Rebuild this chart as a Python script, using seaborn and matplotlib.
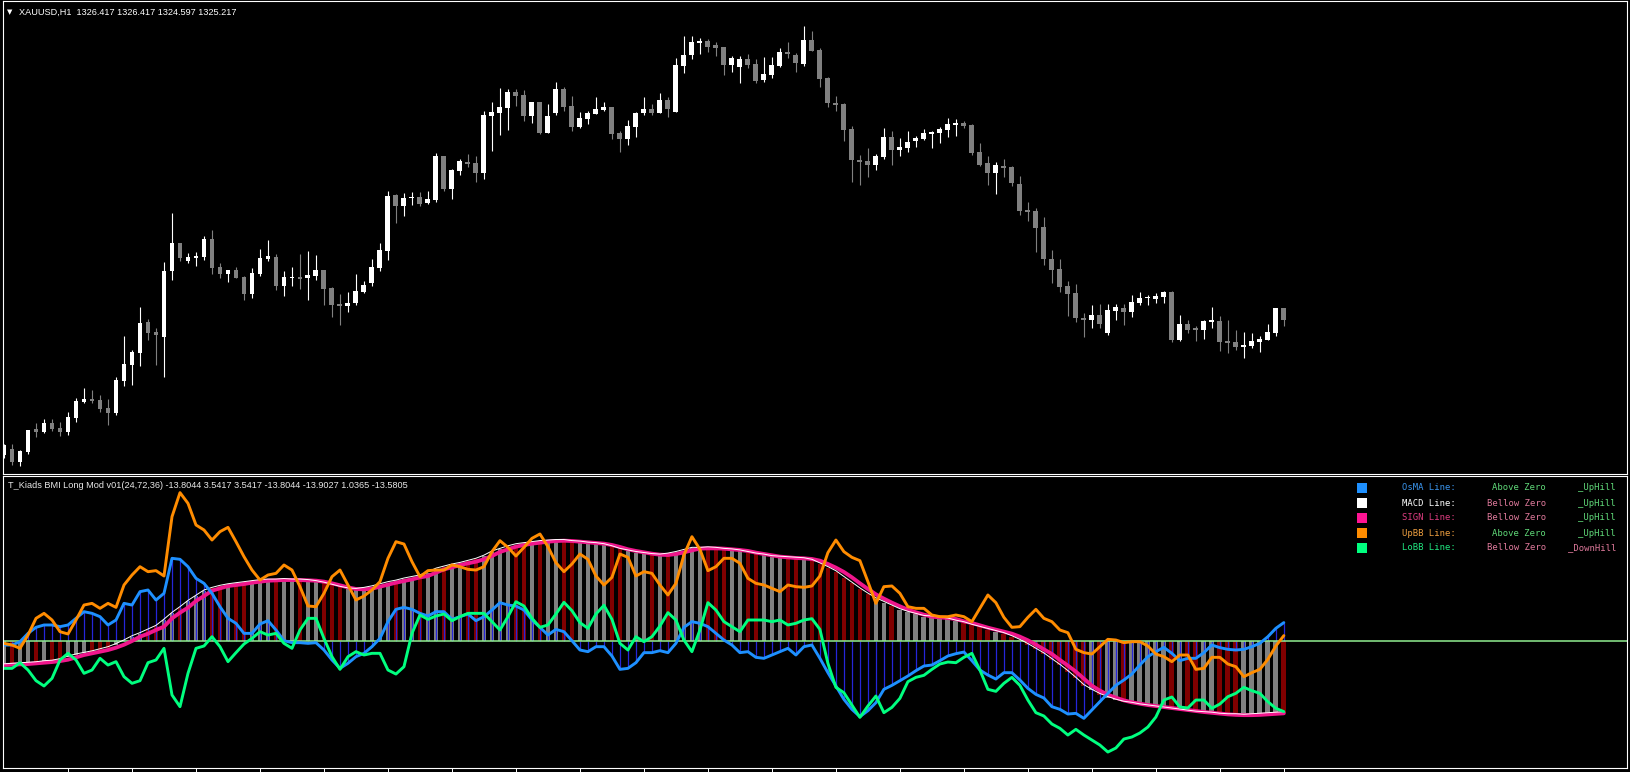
import numpy as np
import pandas as pd
import matplotlib
matplotlib.use("Agg")
import matplotlib.pyplot as plt
from matplotlib.patches import Rectangle
from matplotlib.transforms import offset_copy
import seaborn as sns

# XAUUSD H1 candles (oldest -> newest)
opens = [1311.7,1312.3,1311.0,1312.0,1314.3,1314.0,1314.9,1314.4,1314.0,1315.4,
         1317.0,1317.3,1317.2,1316.4,1315.9,1319.1,1320.7,1321.9,1325.0,1324.0,
         1323.5,1330.1,1332.9,1331.1,1331.4,1331.5,1333.3,1330.5,1329.8,1330.2,
         1329.5,1327.8,1329.8,1331.3,1331.5,1328.6,1329.4,1329.5,1329.4,1329.6,
         1330.2,1328.4,1326.8,1326.6,1326.9,1328.0,1328.9,1330.4,1332.1,1337.7,
         1336.6,1337.4,1337.5,1336.9,1337.2,1341.6,1338.3,1340.1,1341.0,1340.9,
         1339.9,1345.6,1345.9,1346.4,1348.0,1347.7,1345.6,1347.0,1343.9,1345.9,
         1348.3,1346.6,1344.5,1345.3,1345.8,1346.2,1346.5,1343.9,1343.3,1344.5,
         1345.9,1346.3,1345.9,1347.2,1346.0,1350.6,1351.7,1352.9,1353.1,1352.7,
         1352.5,1350.7,1350.5,1351.3,1350.8,1349.2,1349.7,1350.6,1352.0,1351.7,
         1350.8,1353.2,1352.2,1349.4,1346.9,1346.8,1344.3,1341.2,1341.1,1340.7,
         1341.5,1343.5,1342.2,1342.4,1343.1,1343.3,1343.8,1343.9,1344.2,1344.7,
         1344.9,1344.7,1342.0,1340.9,1339.9,1340.6,1340.5,1338.8,1336.2,1336.1,
         1334.5,1331.3,1330.3,1328.6,1327.9,1325.4,1325.2,1325.7,1323.9,1326.1,
         1326.4,1326.0,1326.9,1327.4,1327.3,1327.5,1328.0,1323.2,1324.8,1324.4,
         1324.2,1325.0,1325.1,1323.1,1323.0,1322.5,1322.6,1323.0,1323.2,1323.9,
         1326.417]
highs = [1312.8,1312.8,1312.2,1314.2,1314.9,1315.3,1315.3,1315.0,1316.0,1317.4,
         1318.4,1318.2,1317.7,1317.3,1319.5,1323.6,1322.2,1326.5,1325.3,1324.4,
         1331.0,1335.9,1332.9,1331.9,1332.0,1333.6,1334.2,1330.9,1330.2,1330.5,
         1329.6,1330.4,1332.3,1333.2,1331.8,1330.1,1330.5,1331.8,1332.1,1331.7,
         1330.2,1328.5,1327.8,1328.0,1329.8,1329.1,1331.3,1332.9,1338.1,1337.8,
         1337.9,1338.0,1338.0,1338.1,1341.9,1341.6,1340.3,1341.3,1341.8,1341.6,
         1346.1,1347.0,1348.4,1348.3,1348.3,1348.2,1347.0,1347.0,1346.8,1349.0,
         1348.5,1347.6,1346.0,1346.1,1347.5,1347.0,1346.5,1344.1,1345.2,1346.0,
         1347.5,1346.8,1347.9,1347.5,1351.4,1353.6,1353.6,1353.4,1353.3,1353.0,
         1352.5,1351.6,1351.6,1351.8,1351.3,1351.5,1351.5,1352.4,1353.0,1351.9,
         1354.6,1354.1,1352.4,1349.5,1347.6,1346.9,1344.6,1341.7,1342.4,1341.8,
         1344.4,1344.1,1343.4,1344.1,1343.6,1344.3,1344.1,1344.5,1345.4,1345.3,
         1345.1,1344.8,1342.9,1341.6,1341.0,1341.3,1340.6,1339.6,1337.0,1336.4,
         1335.5,1332.2,1331.3,1329.1,1328.8,1325.9,1326.7,1326.8,1326.8,1326.8,
         1326.8,1327.7,1328.0,1327.7,1327.9,1328.1,1328.1,1325.7,1325.2,1324.6,
         1325.2,1326.5,1325.6,1325.2,1324.2,1324.0,1323.9,1323.6,1324.8,1326.4,
         1326.417]
lows = [1311.4,1310.7,1310.6,1311.8,1313.5,1313.9,1314.1,1313.6,1313.7,1315.0,
        1316.9,1316.9,1316.0,1314.7,1315.7,1318.6,1318.7,1320.6,1323.2,1320.7,
        1319.5,1329.2,1331.1,1330.9,1330.6,1331.2,1329.8,1329.4,1329.0,1329.4,
        1327.2,1327.4,1329.6,1331.1,1328.2,1327.6,1328.6,1328.3,1327.2,1329.2,
        1326.7,1325.5,1324.7,1326.0,1326.7,1327.9,1328.6,1330.1,1331.2,1334.9,
        1335.6,1336.7,1336.6,1336.8,1337.0,1338.1,1337.3,1339.7,1340.5,1339.0,
        1339.3,1342.1,1343.7,1344.2,1346.6,1345.1,1344.9,1343.8,1343.9,1345.7,
        1346.1,1344.1,1344.4,1344.8,1345.8,1346.1,1343.3,1342.0,1342.7,1343.5,
        1345.7,1345.7,1345.9,1345.5,1346.0,1349.9,1351.3,1351.8,1352.0,1351.6,
        1349.7,1350.0,1348.9,1350.4,1348.9,1349.0,1349.4,1350.5,1351.4,1350.0,
        1350.6,1352.1,1348.5,1346.5,1346.1,1343.1,1339.0,1338.7,1339.5,1340.2,
        1341.3,1340.7,1341.6,1342.0,1342.5,1343.2,1342.4,1342.9,1343.5,1343.6,
        1344.4,1341.7,1340.6,1338.7,1337.8,1339.5,1338.6,1335.7,1335.1,1332.0,
        1330.7,1328.9,1328.0,1325.6,1325.0,1323.5,1324.4,1324.4,1323.7,1325.2,
        1324.7,1325.5,1326.7,1326.7,1326.9,1326.9,1323.0,1323.1,1323.9,1323.1,
        1323.3,1324.4,1322.1,1321.9,1322.2,1321.4,1322.4,1322.0,1323.2,1323.6,
        1324.597]
closes = [1312.7,1311.0,1312.1,1314.2,1314.0,1314.9,1314.3,1314.0,1315.5,1317.1,
          1317.3,1317.1,1316.3,1315.9,1319.2,1320.8,1322.0,1324.9,1323.9,1323.7,
          1330.1,1332.9,1331.4,1331.5,1331.6,1333.3,1330.4,1329.8,1330.2,1329.4,
          1327.8,1329.9,1331.4,1331.6,1328.6,1329.5,1329.5,1329.3,1329.7,1330.2,
          1328.3,1326.7,1326.6,1326.9,1328.1,1328.7,1330.5,1332.2,1337.6,1336.6,
          1337.4,1337.5,1336.8,1337.3,1341.6,1338.3,1340.2,1341.1,1340.8,1339.9,
          1345.7,1346.0,1346.5,1348.0,1347.6,1345.6,1347.0,1343.9,1345.6,1348.3,
          1346.5,1344.5,1345.4,1345.9,1346.3,1346.5,1343.8,1343.3,1344.6,1345.9,
          1346.3,1345.9,1347.2,1346.3,1350.7,1351.7,1353.0,1353.1,1352.5,1352.4,
          1350.7,1351.4,1351.3,1350.7,1349.1,1349.8,1350.7,1352.0,1351.8,1350.9,
          1353.2,1352.1,1349.3,1346.9,1346.7,1344.2,1341.2,1341.0,1340.7,1341.6,
          1343.5,1342.2,1342.5,1343.0,1343.4,1343.9,1344.0,1344.3,1344.8,1344.9,
          1344.6,1341.9,1340.7,1339.9,1340.7,1340.4,1338.9,1336.1,1336.0,1334.4,
          1331.3,1330.2,1328.5,1327.8,1325.4,1325.2,1325.7,1324.8,1326.2,1326.5,
          1326.0,1327.0,1327.4,1327.5,1327.6,1328.0,1323.2,1324.8,1324.2,1324.2,
          1325.1,1325.2,1323.0,1322.9,1322.5,1322.7,1323.1,1323.3,1324.0,1326.4,
          1325.217]

# T_Kiads BMI buffers
osma = [-0.77,-0.77,-0.13,1.47,2.63,3.08,3.08,2.76,3.08,4.36,
        5.64,5.32,4.68,3.08,4.04,7.24,6.92,9.49,9.81,7.88,
        9.17,15.9,15.71,14.29,12.05,11.09,9.17,6.6,4.36,3.4,
        1.47,1.47,3.27,3.91,2.12,0.06,-0.32,-0.32,-0.45,-0.32,
        -1.73,-3.65,-5.26,-4.29,-3.01,-2.37,-1.09,0.51,3.72,6.09,
        6.47,6.09,5.32,4.81,5.64,5.64,4.17,4.68,5.19,3.91,
        4.68,5.96,7.37,6.92,6.73,5.96,4.04,2.63,1.15,2.24,
        1.79,0.06,-1.73,-2.05,-1.09,-1.09,-2.88,-5.45,-5.26,-4.17,
        -2.24,-2.24,-1.86,-2.24,-0.45,2.63,3.72,3.4,2.76,1.47,
        0.19,-0.77,-2.24,-2.05,-3.14,-3.33,-2.69,-2.05,-1.41,-2.69,
        -1.09,-0.77,-3.33,-6.09,-8.65,-11.22,-13.14,-14.55,-13.4,-11.86,
        -9.29,-8.53,-7.63,-6.73,-5.71,-4.81,-4.62,-3.78,-2.88,-2.44,
        -2.12,-3.78,-5.58,-6.54,-7.31,-6.09,-6.09,-7.5,-9.1,-10.26,
        -10.96,-12.63,-13.14,-14.04,-13.91,-14.87,-13.27,-11.67,-10.06,-8.53,
        -7.5,-6.35,-4.62,-3.01,-2.05,-1.22,-2.37,-3.78,-3.33,-3.33,
        -2.24,-0.77,-1.28,-1.6,-1.73,-1.6,-1.09,-0.45,0.83,2.44,
        3.54]
macd = [-4.6,-4.5,-4.4,-4.3,-4.2,-4.0,-3.9,-3.6,-3.1,-2.7,
        -2.4,-2.1,-1.7,-1.3,-0.7,0.0,0.8,1.4,2.1,2.8,
        4.0,5.3,6.4,7.6,8.6,9.6,10.1,10.5,10.8,11.0,
        11.2,11.4,11.6,11.7,11.7,11.8,11.7,11.7,11.6,11.4,
        11.1,10.7,10.3,10.0,9.9,10.1,10.4,10.8,11.2,11.5,
        11.9,12.2,12.5,13.1,13.8,14.2,14.6,14.9,15.3,15.7,
        16.3,17.1,17.6,18.1,18.5,18.7,18.9,19.1,19.2,19.3,
        19.3,19.1,19.0,18.8,18.7,18.5,18.1,17.6,17.3,17.0,
        16.8,16.6,16.5,16.7,17.0,17.4,17.8,17.8,17.9,17.8,
        17.6,17.5,17.3,17.0,16.7,16.5,16.2,16.1,16.0,15.9,
        15.8,15.5,14.8,14.1,13.3,12.2,11.1,10.0,9.0,8.1,
        7.4,6.7,6.0,5.5,5.1,4.7,4.6,4.4,4.2,3.8,
        3.5,3.0,2.6,2.2,1.8,1.4,0.8,0.1,-0.7,-1.6,
        -2.5,-3.6,-4.7,-5.9,-7.2,-8.6,-9.5,-10.3,-10.9,-11.4,
        -11.8,-12.0,-12.3,-12.5,-12.7,-12.9,-13.1,-13.3,-13.5,-13.7,
        -13.8,-13.9,-14.1,-14.2,-14.2,-14.3,-14.2,-14.1,-14.0,-13.9,
        -13.8]
signal = [-4.62,-4.55,-4.49,-4.42,-4.29,-4.17,-4.04,-3.85,-3.59,-3.14,
          -2.69,-2.37,-2.05,-1.73,-1.28,-0.71,0.0,0.83,1.41,2.12,
          2.76,4.36,5.45,6.41,7.69,8.65,9.68,10.13,10.58,10.77,
          10.96,11.22,11.41,11.6,11.67,11.73,11.73,11.73,11.67,11.6,
          11.41,11.09,10.71,10.32,10.0,9.94,10.06,10.45,10.83,11.22,
          11.54,11.86,12.24,12.5,13.14,13.78,14.17,14.62,14.94,15.26,
          15.71,16.35,17.12,17.63,18.14,18.46,18.72,18.91,19.1,19.23,
          19.29,19.23,19.1,18.97,18.85,18.72,18.46,18.08,17.63,17.31,
          17.05,16.79,16.6,16.54,16.73,17.05,17.44,17.76,17.82,17.82,
          17.76,17.63,17.5,17.31,16.99,16.73,16.47,16.22,16.09,15.96,
          15.9,15.77,15.45,14.81,14.1,13.27,12.24,11.09,10.0,8.97,
          8.14,7.37,6.67,6.03,5.51,5.06,4.68,4.55,4.42,4.23,
          3.78,3.46,3.01,2.56,2.18,1.79,1.41,0.83,0.13,-0.71,
          -1.6,-2.5,-3.65,-4.74,-5.9,-7.24,-8.59,-9.55,-10.32,-10.9,
          -11.41,-11.79,-12.05,-12.31,-12.5,-12.69,-12.88,-13.08,-13.27,-13.46,
          -13.65,-13.8,-13.95,-14.1,-14.2,-14.25,-14.25,-14.2,-14.1,-14.0,
          -13.9]
upbb = [-0.45,-0.77,-1.41,1.15,4.36,5.32,4.04,1.79,1.35,4.04,
        6.92,7.24,6.28,7.24,6.47,10.77,12.69,14.29,13.33,13.53,
        12.5,23.91,28.53,26.47,22.31,21.35,19.42,21.03,21.86,19.1,
        16.22,13.65,11.73,12.69,13.01,14.62,13.65,10.45,6.73,6.6,
        9.17,12.37,13.65,10.77,7.88,8.65,9.81,11.41,15.9,19.1,
        18.65,15.26,12.37,13.53,13.65,13.65,14.62,14.29,13.78,13.65,
        14.29,17.18,19.29,18.01,16.35,18.01,19.74,20.58,18.14,15.06,
        13.33,14.81,16.73,15.71,12.5,10.77,12.24,16.73,16.09,12.5,
        13.33,13.01,10.77,8.85,11.09,16.54,20.06,17.63,13.53,14.29,
        15.9,15.9,14.94,12.05,11.09,10.77,10.13,9.49,10.77,10.45,
        10.32,10.58,12.5,16.99,19.42,17.18,16.09,15.45,11.41,7.24,
        10.45,10.58,9.17,6.6,6.28,6.28,5.0,4.68,4.68,5.0,
        4.68,3.72,6.28,8.85,7.37,4.55,2.63,2.76,4.55,6.09,
        4.36,3.72,2.12,1.6,-1.6,-2.24,-2.5,-1.09,0.32,0.19,
        -0.32,-0.13,-0.13,-0.96,-2.5,-3.01,-3.97,-2.69,-2.69,-5.45,
        -5.26,-3.14,-3.14,-4.42,-4.94,-6.86,-6.09,-5.45,-3.53,-0.96,
        1.04]
lobb = [-5.26,-5.26,-4.17,-5.58,-7.63,-8.65,-7.18,-3.65,-2.37,-3.65,
        -6.22,-5.58,-3.33,-4.62,-3.97,-6.86,-8.14,-7.63,-4.17,-3.65,
        -1.41,-10.38,-12.63,-6.22,-1.41,-0.96,0.83,-1.09,-3.97,-2.24,
        -0.58,0.51,1.79,1.15,1.47,-0.45,-1.41,2.12,4.36,4.36,
        0.51,-3.01,-5.45,-3.01,-2.05,-2.69,-2.37,-2.37,-5.58,-6.35,
        -4.94,1.47,5.0,4.17,4.81,5.19,3.91,4.68,5.32,5.32,
        5.32,3.72,2.12,4.68,7.56,6.73,4.36,2.63,3.08,5.19,
        7.44,5.83,3.53,2.44,5.19,6.86,4.17,-0.45,-1.73,0.83,
        -0.13,0.83,2.88,5.45,4.04,0.19,-2.05,2.12,7.37,5.96,
        3.72,2.76,1.79,4.04,4.04,4.04,3.72,4.04,3.08,3.4,
        4.04,4.29,2.24,-4.29,-8.91,-9.94,-12.31,-14.68,-12.5,-10.58,
        -13.78,-12.76,-11.03,-7.82,-6.99,-6.6,-5.45,-4.42,-4.04,-4.17,
        -3.14,-2.37,-5.58,-9.29,-9.68,-8.14,-6.99,-8.53,-11.35,-13.78,
        -14.42,-15.96,-16.79,-18.08,-16.99,-18.08,-19.04,-20.0,-21.35,-20.58,
        -18.85,-18.46,-17.69,-16.54,-14.62,-11.35,-10.77,-12.69,-12.88,-11.35,
        -11.35,-12.94,-12.12,-10.71,-10.06,-8.9,-9.56,-10.06,-11.67,-12.94,
        -13.58]

# status table in the indicator window
legend_names = ["OsMA Line:", "MACD Line:", "SIGN Line:", "UpBB Line:", "LoBB Line:"]
legend_zone = ["Above Zero", "Bellow Zero", "Bellow Zero", "Above Zero", "Bellow Zero"]
legend_slope = ["_UpHill", "_UpHill", "_UpHill", "_UpHill", "_DownHill"]

W, H = 1630, 772
sns.set_theme(style="dark")
plt.rcParams["font.family"] = ["Liberation Sans", "DejaVu Sans"]

df = pd.DataFrame({"open": opens, "high": highs, "low": lows, "close": closes,
                   "osma": osma, "macd": macd, "signal": signal,
                   "upbb": upbb, "lobb": lobb})
df["bar"] = np.arange(len(df))
up = df["close"] >= df["open"]

fig = plt.figure(figsize=(W / 100, H / 100), dpi=100, facecolor="black")
ax1 = fig.add_axes([2.5 / W, 1 - 474 / H, 1624.5 / W, 473 / H])
ax2 = fig.add_axes([2.5 / W, 4 / H, 1624.5 / W, 292 / H])

for ax in (ax1, ax2):
    ax.set_facecolor("black")
    ax.grid(False)
    for s in ax.spines.values():
        s.set_color("white")
        s.set_linewidth(0.8)
    ax.set_xlim(-0.19, 202.9)
    ax.set_yticks([])

# candles
ccol = np.where(up, "white", "#808080")
ax1.vlines(df["bar"], df["low"], df["high"], colors=ccol, linewidth=0.8)
body_lo = np.minimum(df["open"], df["close"])
body_h = np.maximum((df["close"] - df["open"]).abs(), 0.12)
ax1.bar(df["bar"], body_h, bottom=body_lo, width=0.62, color=ccol, linewidth=0)
ax1.set_ylim(1309.8, 1357.1)
ax1.set_xticks([])

# indicator window
hcol = np.where(up, "#808080", "#800000")
ax2.bar(df["bar"], df["macd"], width=0.6, color=hcol, linewidth=0)
ax2.vlines(df["bar"], 0, df["osma"], colors="#2626d8", linewidth=0.9)
ax2.axhline(0, color="#90ee90", linewidth=1.1)
sns.lineplot(data=df, x="bar", y="signal", color="#f0168c", linewidth=2.8, ax=ax2)
# MACD line sits on the upper rim of the signal line
rim = offset_copy(ax2.transData, fig=fig, x=0, y=0.8, units="points")
ax2.plot(df["bar"], df["macd"], color="white", linewidth=0.7, transform=rim)
sns.lineplot(data=df, x="bar", y="osma", color="#1e90ff", linewidth=2.1, ax=ax2)
sns.lineplot(data=df, x="bar", y="upbb", color="#ff8c00", linewidth=2.1, ax=ax2)
sns.lineplot(data=df, x="bar", y="lobb", color="#00ff7f", linewidth=2.1, ax=ax2)
ax2.set_ylim(-24.42, 31.73)
ax2.set_xlim(-0.19, 202.9)
ax2.set_xlabel("")
ax2.set_ylabel("")
ax2.set_xticks(range(8, 161, 8))
ax2.tick_params(axis="x", bottom=True, direction="out", length=3, width=0.7,
                color="white", labelbottom=False)

# header texts
fig.text(7 / W, 1 - 12 / H, "\u25bc", color="white", fontsize=5, va="center",
         family="DejaVu Sans")
fig.text(19 / W, 1 - 12.5 / H, "XAUUSD,H1  1326.417 1326.417 1324.597 1325.217",
         color="white", fontsize=6.6, va="center")
fig.text(8 / W, 1 - 486 / H,
         "T_Kiads BMI Long Mod v01(24,72,36) -13.8044 3.5417 3.5417 -13.8044 "
         "-13.9027 1.0365 -13.5805", color="#e8e8e8", fontsize=6.6, va="center")

sq_colors = ["#1e90ff", "white", "#ff1493", "#ff8c00", "#00ff7f"]
name_colors = ["#3a95ee", "white", "#dd3d80", "#f0a040", "#20e880"]
zone_colors = {"Above Zero": "#5fd878", "Bellow Zero": "#e07a9c"}
for k in range(5):
    yc = 488 + 15 * k
    fig.add_artist(Rectangle((1357 / W, 1 - (yc + 5) / H), 10 / W, 10 / H,
                             transform=fig.transFigure, color=sq_colors[k], lw=0))
    fig.text(1456 / W, 1 - yc / H, legend_names[k], color=name_colors[k],
             fontsize=6.4, family="DejaVu Sans Mono", ha="right", va="center")
    fig.text(1546 / W, 1 - yc / H, legend_zone[k], color=zone_colors[legend_zone[k]],
             fontsize=6.4, family="DejaVu Sans Mono", ha="right", va="center")
    scol = "#5fd878" if legend_slope[k] == "_UpHill" else "#e07a9c"
    fig.text(1616 / W, 1 - yc / H, legend_slope[k], color=scol,
             fontsize=6.4, family="DejaVu Sans Mono", ha="right", va="center")

fig.savefig("out.png", dpi=100, facecolor="black")
